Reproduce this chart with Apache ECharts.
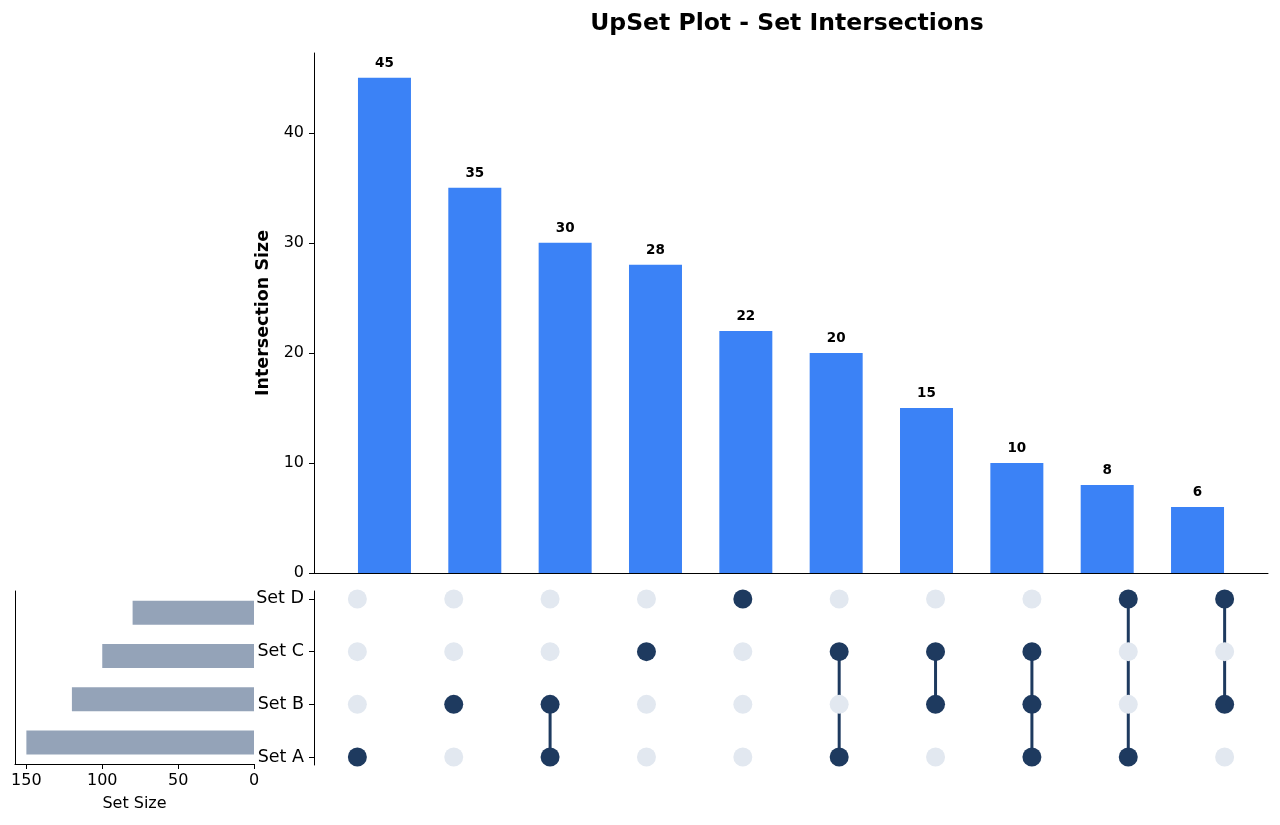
<!DOCTYPE html>
<html>
<head>
<meta charset="utf-8">
<title>UpSet Plot</title>
<script src="https://cdn.jsdelivr.net/npm/echarts@6/dist/echarts.min.js"></script>
<style>
  html, body { margin: 0; padding: 0; background: #fff; }
  #chart { width: 1280px; height: 825px; }
</style>
</head>
<body>
<div id="chart"></div>
<script>
// set names, bottom row first
const setNames = ['Set A', 'Set B', 'Set C', 'Set D']
const setSizes = [150, 120, 100, 80]

// intersections, in display order
const intersectionSizes = [45, 35, 30, 28, 22, 20, 15, 10, 8, 6]
const intersectionMembers = [
  ['Set A'],
  ['Set B'],
  ['Set A', 'Set B'],
  ['Set C'],
  ['Set D'],
  ['Set A', 'Set C'],
  ['Set B', 'Set C'],
  ['Set A', 'Set B', 'Set C'],
  ['Set A', 'Set D'],
  ['Set B', 'Set D'],
]

const countTicks = [0, 10, 20, 30, 40]
const sizeTicks = [0, 50, 100, 150]
const rowTicks = [0, 1, 2, 3]

const FONT = 'DejaVu Sans'
const DARK = '#1e3a5f'
const LIGHT = '#e2e8f0'

// build the marks from the arrays above
const barData = intersectionSizes.map((v, i) => [i, v])
const filledDots = []
const emptyDots = []
const connectors = []
intersectionMembers.forEach((members, col) => {
  const rows = members.map(m => setNames.indexOf(m))
  setNames.forEach((_, row) => {
    if (rows.includes(row)) filledDots.push([col, row])
    else emptyDots.push([col, row])
  })
  if (rows.length > 1) connectors.push([col, Math.min(...rows), Math.max(...rows)])
})

const axisLine = { show: true, onZero: false, lineStyle: { color: '#000', width: 1 } }
const tick = { show: true, length: 5, lineStyle: { color: '#000', width: 1 } }

const chart = echarts.init(document.getElementById('chart'), null, { renderer: 'canvas' })

chart.setOption({
  animation: false,
  backgroundColor: '#fff',
  title: {
    text: 'UpSet Plot - Set Intersections',
    left: 782,
    top: 7,
    textAlign: 'center',
    textStyle: { fontFamily: FONT, fontSize: 23.5, fontWeight: 'bold', color: '#000' },
  },
  grid: [
    { left: 314, right: 12, top: 53, height: 520 },
    { left: 314, right: 12, top: 591, height: 174 },
    { left: 15, width: 239, top: 591, height: 173 },
  ],
  xAxis: [
    {
      gridIndex: 0, type: 'value', min: -0.78, max: 9.78,
      axisLine, axisTick: { show: false }, axisLabel: { show: false }, splitLine: { show: false },
    },
    {
      gridIndex: 1, type: 'value', min: -0.45, max: 9.45, show: false,
    },
    {
      gridIndex: 2, type: 'value', min: 0, max: 157.5, inverse: true,
      axisLine,
      axisTick: Object.assign({ customValues: sizeTicks }, tick),
      axisLabel: { customValues: sizeTicks, margin: 9, fontFamily: FONT, fontSize: 16, color: '#000' },
      splitLine: { show: false },
      name: 'Set Size', nameLocation: 'middle', nameGap: 32,
      nameTextStyle: { fontFamily: FONT, fontSize: 16, color: '#000' },
    },
  ],
  yAxis: [
    {
      gridIndex: 0, type: 'value', min: 0, max: 47.25,
      axisLine,
      axisTick: Object.assign({ customValues: countTicks }, tick),
      axisLabel: { customValues: countTicks, margin: 10, fontFamily: FONT, fontSize: 16, color: '#000' },
      splitLine: { show: false },
      name: 'Intersection Size', nameLocation: 'middle', nameGap: 41,
      nameTextStyle: { fontFamily: FONT, fontSize: 17.5, fontWeight: 'bold', color: '#000' },
    },
    {
      gridIndex: 1, type: 'value', min: -0.15, max: 3.15,
      axisLine,
      axisTick: Object.assign({ customValues: rowTicks }, tick),
      axisLabel: {
        customValues: rowTicks, margin: 10, fontFamily: FONT, fontSize: 17.5, color: '#000',
        formatter: v => setNames[Math.round(v)],
      },
      splitLine: { show: false },
    },
    {
      gridIndex: 2, type: 'category', data: setNames,
      axisLine, axisTick: { show: false }, axisLabel: { show: false }, splitLine: { show: false },
    },
  ],
  series: [
    {
      name: 'Intersection Size',
      type: 'bar',
      xAxisIndex: 0, yAxisIndex: 0,
      data: barData,
      barWidth: 53,
      itemStyle: { color: '#3b82f6' },
      label: {
        show: true, position: 'top', distance: 7,
        formatter: p => p.value[1],
        fontFamily: FONT, fontSize: 13.5, fontWeight: 'bold', color: '#000',
      },
    },
    {
      name: 'connectors',
      type: 'custom',
      xAxisIndex: 1, yAxisIndex: 1,
      z: 1,
      data: connectors,
      renderItem: (params, api) => {
        const a = api.coord([api.value(0), api.value(1)])
        const b = api.coord([api.value(0), api.value(2)])
        return {
          type: 'line',
          shape: { x1: a[0], y1: a[1], x2: b[0], y2: b[1] },
          style: { stroke: DARK, lineWidth: 3 },
        }
      },
    },
    {
      name: 'not in intersection',
      type: 'scatter',
      xAxisIndex: 1, yAxisIndex: 1,
      z: 3,
      symbolSize: 19,
      data: emptyDots,
      itemStyle: { color: LIGHT, opacity: 1 },
    },
    {
      name: 'in intersection',
      type: 'scatter',
      xAxisIndex: 1, yAxisIndex: 1,
      z: 3,
      symbolSize: 19,
      data: filledDots,
      itemStyle: { color: DARK, opacity: 1 },
    },
    {
      name: 'Set Size',
      type: 'bar',
      xAxisIndex: 2, yAxisIndex: 2,
      data: setSizes,
      barWidth: 24,
      itemStyle: { color: '#94a3b8' },
    },
  ],
})
</script>
</body>
</html>
